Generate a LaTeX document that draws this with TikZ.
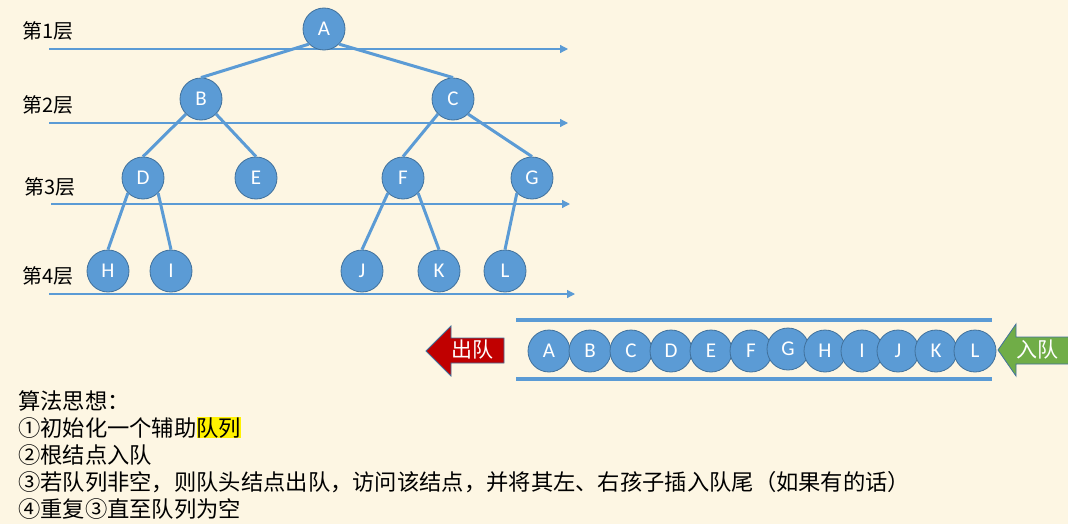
\documentclass[tikz,border=0pt]{standalone}
\usepackage{fontspec}
\setmainfont{Carlito}
\newfontfamily\cjk{Noto Sans CJK SC}
\usepackage{tikz}
\usetikzlibrary{arrows.meta,shapes}
\definecolor{paper}{HTML}{FDF6E3}
\definecolor{nodeblue}{HTML}{5B9BD5}
\definecolor{rimblue}{HTML}{41719C}
\definecolor{outred}{HTML}{C00000}
\definecolor{ingreen}{HTML}{70AD47}

\begin{document}
\begin{tikzpicture}[
  tnode/.style={draw=rimblue,line width=0.8bp,circle,fill=nodeblue,text=white,minimum size=42bp,inner sep=0pt,text height=13bp,text depth=0bp,font=\fontsize{21bp}{21bp}\selectfont},
  link/.style={nodeblue,line width=3bp},
  lvlline/.style={nodeblue,line width=1.2bp,-{Triangle[length=8bp,width=8bp]}},
  lvltext/.style={anchor=west,inner sep=0pt,font=\cjk\fontsize{20bp}{20bp}\selectfont},
  pipe/.style={nodeblue,line width=4bp},
  tagtext/.style={text=white,inner sep=0pt,font=\cjk\fontsize{21bp}{21bp}\selectfont},
  idea/.style={anchor=base west,inner sep=0pt,font=\cjk\fontsize{22.3bp}{27bp}\selectfont}
]
\fill [paper] (0,0) rectangle (1068bp,-524bp);
\useasboundingbox (0,0) rectangle (1068bp,-524bp);

% levels
\node (L1) at (22bp,-31bp)[lvltext] {第1层};
\node (L2) at (22bp,-105bp)[lvltext] {第2层};
\node (L3) at (24bp,-187bp)[lvltext] {第3层};
\node (L4) at (22bp,-276bp)[lvltext] {第4层};
\coordinate (L1s) at (49bp,-49bp);
\coordinate (L1e) at (568bp,-49bp);
\coordinate (L2s) at (49bp,-123bp);
\coordinate (L2e) at (568bp,-123bp);
\coordinate (L3s) at (51bp,-204bp);
\coordinate (L3e) at (570bp,-204bp);
\coordinate (L4s) at (49bp,-294bp);
\coordinate (L4e) at (575bp,-294bp);
\draw [lvlline] (L1s) to (L1e);
\draw [lvlline] (L2s) to (L2e);
\draw [lvlline] (L3s) to (L3e);
\draw [lvlline] (L4s) to (L4e);

% tree
\node (A) at (324bp,-29bp)[tnode] {A};
\node (B) at (201bp,-99bp)[tnode] {B};
\node (C) at (453bp,-99bp)[tnode] {C};
\node (D) at (143bp,-178bp)[tnode] {D};
\node (E) at (256bp,-178bp)[tnode] {E};
\node (F) at (403bp,-178bp)[tnode] {F};
\node (G) at (532bp,-178bp)[tnode] {G};
\node (H) at (108bp,-271bp)[tnode] {H};
\node (I) at (171bp,-271bp)[tnode] {I};
\node (J) at (362bp,-271bp)[tnode] {J};
\node (K) at (439bp,-271bp)[tnode] {K};
\node (L) at (505bp,-271bp)[tnode] {L};
\draw [link] (A.225) to (B.north);
\draw [link] (A.315) to (C.north);
\draw [link] (B.225) to (D.north);
\draw [link] (B.315) to (E.north);
\draw [link] (C.225) to (F.north);
\draw [link] (C.315) to (G.north);
\draw [link] (D.225) to (H.north);
\draw [link] (D.315) to (I.north);
\draw [link] (F.225) to (J.north);
\draw [link] (F.315) to (K.north);
\draw [link] (G.225) to (L.north);

% queue
\coordinate (pipeNW) at (516bp,-320bp);
\coordinate (pipeNE) at (992bp,-320bp);
\coordinate (pipeSW) at (516bp,-379bp);
\coordinate (pipeSE) at (992bp,-379bp);
\draw [pipe] (pipeNW) to (pipeNE);
\draw [pipe] (pipeSW) to (pipeSE);
\node (qA) at (549bp,-351bp)[tnode] {A};
\node (qB) at (590bp,-351bp)[tnode] {B};
\node (qC) at (631bp,-351bp)[tnode] {C};
\node (qD) at (671bp,-351bp)[tnode] {D};
\node (qE) at (711bp,-351bp)[tnode] {E};
\node (qF) at (751bp,-351bp)[tnode] {F};
\node (qG) at (788bp,-349bp)[tnode] {G};
\node (qH) at (825bp,-351bp)[tnode] {H};
\node (qI) at (862bp,-351bp)[tnode] {I};
\node (qJ) at (898bp,-351bp)[tnode] {J};
\node (qK) at (936bp,-351bp)[tnode] {K};
\node (qL) at (975bp,-351bp)[tnode] {L};

% out / in arrows
\filldraw [fill=outred,draw=rimblue,line width=0.8bp] (426bp,-351bp) -- (451bp,-326bp) -- (451bp,-338bp) -- (504bp,-338bp) -- (504bp,-363bp) -- (451bp,-363bp) -- (451bp,-376bp) -- cycle;
\node (deq) at (472bp,-350bp)[tagtext] {出队};
\filldraw [fill=ingreen,draw=rimblue,line width=0.8bp] (998bp,-350bp) -- (1016bp,-324bp) -- (1016bp,-337bp) -- (1080bp,-337bp) -- (1080bp,-364bp) -- (1016bp,-364bp) -- (1016bp,-376bp) -- cycle;
\node (enq) at (1037bp,-350bp)[tagtext] {入队};

% algorithm
\node (idea0) at (18bp,-409bp)[idea] {算法思想：};
\node (idea1) at (18bp,-436bp)[idea] {①初始化一个辅助{\setlength\fboxsep{0pt}\colorbox{yellow}{队列}}};
\node (idea2) at (18bp,-463bp)[idea] {②根结点入队};
\node (idea3) at (18bp,-490bp)[idea] {③若队列非空，则队头结点出队，访问该结点，并将其左、右孩子插入队尾（如果有的话）};
\node (idea4) at (18bp,-517bp)[idea] {④重复③直至队列为空};
\end{tikzpicture}
\end{document}
